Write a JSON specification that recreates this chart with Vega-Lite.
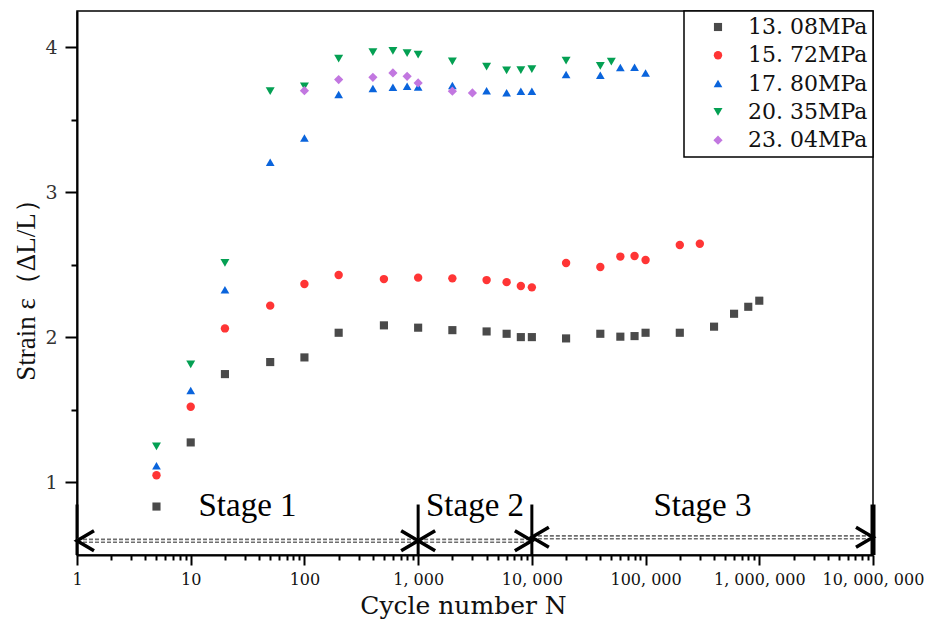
{
  "$schema": "https://vega.github.io/schema/vega-lite/v6.json",
  "width": 796,
  "height": 544,
  "autosize": {"type": "none"},
  "padding": {"left": 77, "top": 11, "right": 57, "bottom": 66},
  "background": "white",
  "config": {
    "view": {"stroke": "black", "strokeWidth": 1.5},
    "axis": {"domainColor": "black", "domainWidth": 2, "tickColor": "black", "tickWidth": 2, "grid": false},
    "legend": {"strokeWidth": 1.5}
  },
  "datasets": {
    "points": [
      {"series": "13.08MPa", "N": 5, "strain": 0.834},
      {"series": "13.08MPa", "N": 10, "strain": 1.276},
      {"series": "13.08MPa", "N": 20, "strain": 1.747},
      {"series": "13.08MPa", "N": 50, "strain": 1.830},
      {"series": "13.08MPa", "N": 100, "strain": 1.862},
      {"series": "13.08MPa", "N": 200, "strain": 2.032},
      {"series": "13.08MPa", "N": 500, "strain": 2.083},
      {"series": "13.08MPa", "N": 1000, "strain": 2.067},
      {"series": "13.08MPa", "N": 2000, "strain": 2.050},
      {"series": "13.08MPa", "N": 4000, "strain": 2.041},
      {"series": "13.08MPa", "N": 6000, "strain": 2.025},
      {"series": "13.08MPa", "N": 8000, "strain": 2.002},
      {"series": "13.08MPa", "N": 10000, "strain": 2.002},
      {"series": "13.08MPa", "N": 20000, "strain": 1.993},
      {"series": "13.08MPa", "N": 40000, "strain": 2.025},
      {"series": "13.08MPa", "N": 60000, "strain": 2.005},
      {"series": "13.08MPa", "N": 80000, "strain": 2.009},
      {"series": "13.08MPa", "N": 100000, "strain": 2.032},
      {"series": "13.08MPa", "N": 200000, "strain": 2.032},
      {"series": "13.08MPa", "N": 400000, "strain": 2.074},
      {"series": "13.08MPa", "N": 600000, "strain": 2.163},
      {"series": "13.08MPa", "N": 800000, "strain": 2.211},
      {"series": "13.08MPa", "N": 1000000, "strain": 2.253},
      {"series": "15.72MPa", "N": 5, "strain": 1.050},
      {"series": "15.72MPa", "N": 10, "strain": 1.522},
      {"series": "15.72MPa", "N": 20, "strain": 2.062},
      {"series": "15.72MPa", "N": 50, "strain": 2.219},
      {"series": "15.72MPa", "N": 100, "strain": 2.368},
      {"series": "15.72MPa", "N": 200, "strain": 2.430},
      {"series": "15.72MPa", "N": 500, "strain": 2.402},
      {"series": "15.72MPa", "N": 1000, "strain": 2.412},
      {"series": "15.72MPa", "N": 2000, "strain": 2.407},
      {"series": "15.72MPa", "N": 4000, "strain": 2.395},
      {"series": "15.72MPa", "N": 6000, "strain": 2.381},
      {"series": "15.72MPa", "N": 8000, "strain": 2.354},
      {"series": "15.72MPa", "N": 10000, "strain": 2.345},
      {"series": "15.72MPa", "N": 20000, "strain": 2.513},
      {"series": "15.72MPa", "N": 40000, "strain": 2.485},
      {"series": "15.72MPa", "N": 60000, "strain": 2.557},
      {"series": "15.72MPa", "N": 80000, "strain": 2.561},
      {"series": "15.72MPa", "N": 100000, "strain": 2.533},
      {"series": "15.72MPa", "N": 200000, "strain": 2.637},
      {"series": "15.72MPa", "N": 300000, "strain": 2.646},
      {"series": "17.80MPa", "N": 5, "strain": 1.115},
      {"series": "17.80MPa", "N": 10, "strain": 1.634},
      {"series": "17.80MPa", "N": 20, "strain": 2.329},
      {"series": "17.80MPa", "N": 50, "strain": 3.207},
      {"series": "17.80MPa", "N": 100, "strain": 3.375},
      {"series": "17.80MPa", "N": 200, "strain": 3.674},
      {"series": "17.80MPa", "N": 400, "strain": 3.715},
      {"series": "17.80MPa", "N": 600, "strain": 3.724},
      {"series": "17.80MPa", "N": 800, "strain": 3.731},
      {"series": "17.80MPa", "N": 1000, "strain": 3.726},
      {"series": "17.80MPa", "N": 2000, "strain": 3.736},
      {"series": "17.80MPa", "N": 4000, "strain": 3.701},
      {"series": "17.80MPa", "N": 6000, "strain": 3.687},
      {"series": "17.80MPa", "N": 8000, "strain": 3.697},
      {"series": "17.80MPa", "N": 10000, "strain": 3.697},
      {"series": "17.80MPa", "N": 20000, "strain": 3.812},
      {"series": "17.80MPa", "N": 40000, "strain": 3.807},
      {"series": "17.80MPa", "N": 60000, "strain": 3.860},
      {"series": "17.80MPa", "N": 80000, "strain": 3.862},
      {"series": "17.80MPa", "N": 100000, "strain": 3.823},
      {"series": "20.35MPa", "N": 5, "strain": 1.248},
      {"series": "20.35MPa", "N": 10, "strain": 1.814},
      {"series": "20.35MPa", "N": 20, "strain": 2.513},
      {"series": "20.35MPa", "N": 50, "strain": 3.697},
      {"series": "20.35MPa", "N": 100, "strain": 3.731},
      {"series": "20.35MPa", "N": 200, "strain": 3.922},
      {"series": "20.35MPa", "N": 400, "strain": 3.966},
      {"series": "20.35MPa", "N": 600, "strain": 3.975},
      {"series": "20.35MPa", "N": 800, "strain": 3.959},
      {"series": "20.35MPa", "N": 1000, "strain": 3.950},
      {"series": "20.35MPa", "N": 2000, "strain": 3.903},
      {"series": "20.35MPa", "N": 4000, "strain": 3.867},
      {"series": "20.35MPa", "N": 6000, "strain": 3.841},
      {"series": "20.35MPa", "N": 8000, "strain": 3.843},
      {"series": "20.35MPa", "N": 10000, "strain": 3.850},
      {"series": "20.35MPa", "N": 20000, "strain": 3.908},
      {"series": "20.35MPa", "N": 40000, "strain": 3.871},
      {"series": "20.35MPa", "N": 50000, "strain": 3.901},
      {"series": "23.04MPa", "N": 100, "strain": 3.701},
      {"series": "23.04MPa", "N": 200, "strain": 3.777},
      {"series": "23.04MPa", "N": 400, "strain": 3.793},
      {"series": "23.04MPa", "N": 600, "strain": 3.823},
      {"series": "23.04MPa", "N": 800, "strain": 3.800},
      {"series": "23.04MPa", "N": 1000, "strain": 3.754},
      {"series": "23.04MPa", "N": 2000, "strain": 3.697},
      {"series": "23.04MPa", "N": 3000, "strain": 3.685}
    ],
    "stages": [
      {"stage": "Stage 1", "start": 1, "end": 1000, "mid": 31.6, "level": 0.598},
      {"stage": "Stage 2", "start": 1000, "end": 10000, "mid": 3162, "level": 0.598},
      {"stage": "Stage 3", "start": 10000, "end": 10000000, "mid": 316228, "level": 0.622}
    ],
    "bounds": [
      {"N": 1}, {"N": 1000}, {"N": 10000}, {"N": 10000000}
    ]
  },
  "layer": [
    {
      "data": {"name": "points"},
      "mark": {"type": "point", "filled": true, "opacity": 1, "strokeWidth": 0},
      "encoding": {
        "x": {
          "field": "N", "type": "quantitative",
          "scale": {"type": "log", "domain": [1, 10000000], "nice": false},
          "axis": {
            "values": [1,2,3,4,5,6,7,8,9,10,20,30,40,50,60,70,80,90,100,200,300,400,500,600,700,800,900,1000,2000,3000,4000,5000,6000,7000,8000,9000,10000,20000,30000,40000,50000,60000,70000,80000,90000,100000,200000,300000,400000,500000,600000,700000,800000,900000,1000000,2000000,3000000,4000000,5000000,6000000,7000000,8000000,9000000,10000000],
            "tickSize": {"condition": {"test": "indexof([1,10,100,1000,10000,100000,1000000,10000000], datum.value) >= 0", "value": 10}, "value": 5},
            "labelExpr": "indexof([1,10,100,1000,10000,100000,1000000,10000000], datum.value) >= 0 ? replace(format(datum.value, ','), regexp(',', 'g'), ', ') : ''",
            "labelFont": "DejaVu Serif", "labelFontSize": 16, "labelColor": "#111",
            "labelPadding": 6, "labelOverlap": false, "labelFlush": false, "labelBound": false,
            "title": "Cycle number N", "titleFont": "DejaVu Serif", "titleFontSize": 25, "titleFontWeight": "normal", "titleColor": "#111",
            "titleX": 386, "titleY": 58, "titleBaseline": "alphabetic", "titleAlign": "center"
          }
        },
        "y": {
          "field": "strain", "type": "quantitative",
          "scale": {"domain": [0.5, 4.25], "nice": false, "zero": false},
          "axis": {
            "values": [1, 1.5, 2, 2.5, 3, 3.5, 4],
            "tickSize": {"condition": {"test": "datum.value % 1 === 0", "value": 12}, "value": 6},
            "labelExpr": "datum.value % 1 === 0 ? format(datum.value, 'd') : ''",
            "labelFont": "DejaVu Serif", "labelFontSize": 19, "labelColor": "#333", "labelPadding": 8, "labelOverlap": false,
            "title": "Strain ε（ΔL/L）", "titleFont": "Liberation Serif", "titleFontSize": 27, "titleFontWeight": "normal", "titleColor": "#111",
            "titleX": -51, "titleY": 272, "titleBaseline": "middle", "titleAlign": "center", "titleAngle": -90
          }
        },
        "color": {
          "field": "series", "type": "nominal",
          "scale": {"domain": ["13.08MPa", "15.72MPa", "17.80MPa", "20.35MPa", "23.04MPa"], "range": ["#4a4a4a", "#ff3535", "#0a64dc", "#04a053", "#c277e0"]},
          "legend": {
            "title": null, "orient": "top-right", "offset": 0, "padding": 5,
            "strokeColor": "black", "fillColor": "white",
            "labelFont": "DejaVu Serif", "labelFontSize": 22, "labelColor": "#111",
            "labelOffset": 19, "symbolOffset": 18, "rowPadding": 6.3,
            "labelExpr": "replace(datum.label, '.', '. ')",
            "symbolOpacity": 1, "symbolStrokeWidth": 0
          }
        },
        "shape": {
          "field": "series", "type": "nominal",
          "scale": {"domain": ["13.08MPa", "15.72MPa", "17.80MPa", "20.35MPa", "23.04MPa"], "range": ["square", "circle", "triangle-up", "triangle-down", "diamond"]}
        },
        "size": {
          "field": "series", "type": "nominal",
          "scale": {"domain": ["13.08MPa", "15.72MPa", "17.80MPa", "20.35MPa", "23.04MPa"], "range": [66, 85, 145, 145, 140]}
        }
      }
    },
    {
      "data": {"name": "bounds"},
      "transform": [{"filter": "datum.N < 10000000"}],
      "mark": {"type": "rule", "color": "black", "strokeWidth": 3},
      "encoding": {
        "x": {"field": "N", "type": "quantitative", "scale": {"type": "log", "domain": [1, 10000000], "nice": false}},
        "y": {"datum": 0.848, "type": "quantitative", "scale": {"domain": [0.5, 4.25], "nice": false, "zero": false}},
        "y2": {"datum": 0.5}
      }
    },
    {
      "data": {"name": "bounds"},
      "transform": [{"filter": "datum.N >= 10000000"}],
      "mark": {"type": "rule", "color": "black", "strokeWidth": 5},
      "encoding": {
        "x": {"field": "N", "type": "quantitative", "scale": {"type": "log", "domain": [1, 10000000], "nice": false}},
        "y": {"datum": 0.848, "type": "quantitative", "scale": {"domain": [0.5, 4.25], "nice": false, "zero": false}},
        "y2": {"datum": 0.5}
      }
    },
    {
      "data": {"name": "stages"},
      "mark": {"type": "rule", "color": "#6e6e6e", "strokeWidth": 4.5, "strokeDash": [4, 2]},
      "encoding": {
        "x": {"field": "start", "type": "quantitative", "scale": {"type": "log", "domain": [1, 10000000], "nice": false}},
        "x2": {"field": "end"},
        "y": {"field": "level", "type": "quantitative", "scale": {"domain": [0.5, 4.25], "nice": false, "zero": false}}
      }
    },
    {
      "data": {"name": "stages"},
      "mark": {"type": "rule", "color": "white", "strokeWidth": 1.2},
      "encoding": {
        "x": {"field": "start", "type": "quantitative", "scale": {"type": "log", "domain": [1, 10000000], "nice": false}},
        "x2": {"field": "end"},
        "y": {"field": "level", "type": "quantitative", "scale": {"domain": [0.5, 4.25], "nice": false, "zero": false}}
      }
    },
    {
      "data": {"name": "stages"},
      "mark": {"type": "point", "shape": "M 1.7 -1 L 0 0 L 1.7 1", "filled": false, "stroke": "black", "strokeWidth": 3.5, "size": 400, "opacity": 1},
      "encoding": {
        "x": {"field": "start", "type": "quantitative", "scale": {"type": "log", "domain": [1, 10000000], "nice": false}},
        "y": {"field": "level", "type": "quantitative", "scale": {"domain": [0.5, 4.25], "nice": false, "zero": false}}
      }
    },
    {
      "data": {"name": "stages"},
      "mark": {"type": "point", "shape": "M -1.7 -1 L 0 0 L -1.7 1", "filled": false, "stroke": "black", "strokeWidth": 3.5, "size": 400, "opacity": 1},
      "encoding": {
        "x": {"field": "end", "type": "quantitative", "scale": {"type": "log", "domain": [1, 10000000], "nice": false}},
        "y": {"field": "level", "type": "quantitative", "scale": {"domain": [0.5, 4.25], "nice": false, "zero": false}}
      }
    },
    {
      "data": {"name": "stages"},
      "mark": {"type": "text", "font": "Liberation Serif", "fontSize": 33, "color": "black", "align": "center", "baseline": "alphabetic"},
      "encoding": {
        "x": {"field": "mid", "type": "quantitative", "scale": {"type": "log", "domain": [1, 10000000], "nice": false}},
        "y": {"datum": 0.766, "type": "quantitative", "scale": {"domain": [0.5, 4.25], "nice": false, "zero": false}},
        "text": {"field": "stage"}
      }
    }
  ]
}
